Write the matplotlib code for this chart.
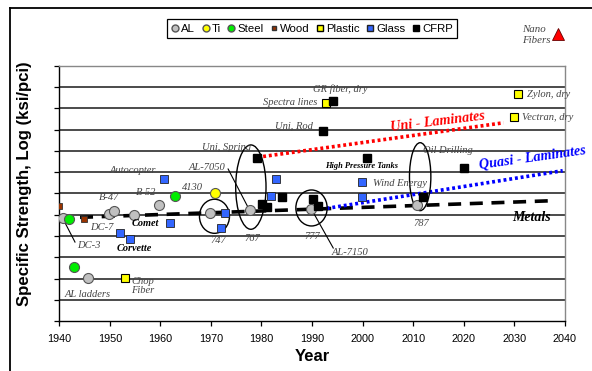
import numpy as np
import matplotlib
matplotlib.use('Agg')
import matplotlib.pyplot as plt
from matplotlib.patches import Ellipse
from matplotlib.lines import Line2D

plt.rcParams['font.family'] = ['Liberation Sans', 'DejaVu Sans']

# material data points (year, log specific strength)
al_year = [1940.8, 1949.9, 1950.9, 1954.8, 1959.8, 1969.8, 1977.8, 1989.8, 2010.8, 1945.7]
al_val = [4.84, 5.02, 5.18, 5.0, 5.46, 5.1, 5.23, 5.29, 5.45, 2.02]
ti_year = [1970.8]
ti_val = [6.0]
steel_year = [1941.9, 1962.9, 1942.9]
steel_val = [4.82, 5.88, 2.55]
wood_year = [1940.0, 1944.9]
wood_val = [5.43, 4.82]
plastic_year = [1952.9, 1992.8, 2030.8, 2029.9]
plastic_val = [2.02, 10.26, 10.66, 9.6]
glass_year = [1952.0, 1954.0, 1960.8, 1961.9, 1972.8, 1971.9, 1982.9, 1981.9, 1999.9, 1999.9]
glass_val = [4.16, 3.85, 6.67, 4.6, 5.07, 4.39, 6.67, 5.88, 6.55, 5.82]
cfrp_year = [1979.2, 1992.1, 2000.9, 1984.1, 1980.1, 1981.0, 1990.1, 1991.1, 2020.1, 2012.0, 1994.2]
cfrp_val = [7.68, 8.95, 7.68, 5.82, 5.49, 5.38, 5.73, 5.41, 7.21, 5.82, 10.36]
nano_year = [2038.6]
nano_val = [13.47]

# trend lines (start, end)
uni_year = [1979.2, 2027.9]
uni_val = [7.7, 9.32]
quasi_year = [1992.9, 2039.6]
quasi_val = [5.3, 7.07]
metal_year = [1944.1, 2037.4]
metal_val = [4.88, 5.66]

xticks = np.arange(1940, 2041, 10)

fig = plt.figure(figsize=(5.92, 3.71), dpi=100)
ax = fig.add_axes([0.1002, 0.134, 0.8537, 0.6889])

for yy in range(1, 12):
    ax.axhline(yy, color='#1a1a1a', lw=1.1, zorder=1)

ax.plot(metal_year, metal_val, color='black', lw=2.6, ls=(0, (3.6, 2.4)), zorder=2)
ax.plot(uni_year, uni_val, color='#ff0000', lw=2.6, ls=(0, (0.8, 0.8)), zorder=2)
ax.plot(quasi_year, quasi_val, color='#0000ff', lw=2.6, ls=(0, (0.8, 0.8)), zorder=2)

# leader lines
ax.plot([1940.75, 1943.1], [4.8, 3.72], color='black', lw=0.8, zorder=3)
ax.plot([1973.4, 1977.3], [7.15, 5.37], color='black', lw=0.8, zorder=3)
ax.plot([1990.2, 1994.2], [5.13, 3.44], color='black', lw=0.8, zorder=3)

# aircraft groupings
for cx, cy, w, h in [(1970.7, 4.93, 5.94, 1.6), (1977.9, 6.3, 6.0, 3.96),
                     (1989.9, 5.32, 6.2, 1.69), (2011.4, 6.79, 4.23, 3.19)]:
    ax.add_patch(Ellipse((cx, cy), w, h, fill=False, ec='black', lw=1.0, zorder=4))

mk = dict(ls='none', zorder=5)
ax.plot(al_year, al_val, marker='o', ms=7.2, mfc='#c0c0c0', mec='#555555', mew=0.8, **mk)
ax.plot(ti_year, ti_val, marker='o', ms=7.2, mfc='#ffff00', mec='#555555', mew=0.8, **mk)
ax.plot(steel_year, steel_val, marker='o', ms=7.2, mfc='#00ee00', mec='#555555', mew=0.8, **mk)
ax.plot(wood_year, wood_val, marker='s', ms=3.8, mfc='#993300', mec='#333333', mew=0.6, **mk)
ax.plot(plastic_year, plastic_val, marker='s', ms=5.2, mfc='#ffff00', mec='black', mew=0.8, **mk)
ax.plot(glass_year, glass_val, marker='s', ms=5.2, mfc='#3366ff', mec='#222222', mew=0.6, **mk)
ax.plot(cfrp_year, cfrp_val, marker='s', ms=5.2, mfc='black', mec='black', **mk)
ax.plot(nano_year, nano_val, marker='^', ms=9, mfc='#ff0000', mec='#660000', mew=0.6, clip_on=False, **mk)

serif = ['Liberation Serif', 'DejaVu Serif']
grey = '#444444'
notes = [
    (1941.1, 1.28, 'AL ladders'), (1954.2, 1.66, 'Chop\nFiber'), (1943.5, 3.58, 'DC-3'),
    (1946.1, 4.38, 'DC-7'), (1947.9, 5.79, 'B-47'), (1955.2, 6.07, 'B-52'),
    (1950.0, 7.1, 'Autocopter'), (1964.3, 6.26, '4130'), (1965.5, 7.24, 'AL-7050'),
    (1969.8, 3.77, '747'), (1976.7, 3.91, '767'), (1968.2, 8.14, 'Uni, Spring'),
    (1982.7, 9.17, 'Uni, Rod'), (1980.3, 10.25, 'Spectra lines'), (1990.2, 10.9, 'GR fiber, dry'),
    (2002.0, 6.49, 'Wind Energy'), (2012.0, 8.0, 'Oil Drilling'), (1988.4, 3.96, '777'),
    (1993.9, 3.21, 'AL-7150'), (2010.0, 4.57, '787'), (2032.5, 10.67, 'Zylon, dry'),
    (2031.5, 9.59, 'Vectran, dry'),
]
for tx, ty, s in notes:
    ax.text(tx, ty, s, family=serif, style='italic', fontsize=7.6, color=grey,
            ha='left', va='center', linespacing=1.05, zorder=6)
ax.text(2031.5, 13.44, 'Nano\nFibers', family=serif, style='italic', fontsize=7.8, color=grey,
        ha='left', va='center', linespacing=1.3, clip_on=False)

bold_notes = [(1954.4, 4.57, 'Comet', 7.4), (1951.4, 3.44, 'Corvette', 7.4),
              (1992.6, 7.29, 'High Pressure Tanks', 6.0), (2029.6, 4.85, 'Metals', 10)]
for tx, ty, s, fs in bold_notes:
    ax.text(tx, ty, s, family=serif, style='italic', weight='bold', fontsize=fs,
            color='black', ha='left', va='center', zorder=6)

ax.text(2014.8, 9.35, 'Uni - Laminates', family=serif, style='italic', weight='bold',
        fontsize=10.2, color='#ff0000', ha='center', va='center', rotation=7)
ax.text(2033.7, 7.67, 'Quasi - Laminates', family=serif, style='italic', weight='bold',
        fontsize=10.2, color='#0000ff', ha='center', va='center', rotation=8, clip_on=False)

ax.set_xlim(1940, 2040)
ax.set_ylim(0, 12)
ax.set_xticks(xticks)
ax.set_xticklabels([str(v) for v in xticks], fontsize=7.8)
ax.set_yticks(range(0, 13))
ax.set_yticklabels([])
ax.tick_params(axis='both', direction='out', length=3.5, width=0.9, color='black', pad=6)
for side in ['top', 'right']:
    ax.spines[side].set_color('#888888')
    ax.spines[side].set_linewidth(1.0)
for side in ['left', 'bottom']:
    ax.spines[side].set_color('black')
    ax.spines[side].set_linewidth(1.0)

ax.set_xlabel('Year', fontsize=12, weight='bold', labelpad=3)
ax.set_ylabel('Specific Strength, Log (ksi/pci)', fontsize=12.1, weight='bold')
ax.yaxis.set_label_coords(-0.054, 0.54)

handles = [
    Line2D([], [], ls='none', marker='o', ms=5, mfc='#c0c0c0', mec='#555555', label='AL'),
    Line2D([], [], ls='none', marker='o', ms=5, mfc='#ffff00', mec='#555555', label='Ti'),
    Line2D([], [], ls='none', marker='o', ms=5, mfc='#00ee00', mec='#555555', label='Steel'),
    Line2D([], [], ls='none', marker='s', ms=3.2, mfc='#993300', mec='#333333', label='Wood'),
    Line2D([], [], ls='none', marker='s', ms=4.6, mfc='#ffff00', mec='black', label='Plastic'),
    Line2D([], [], ls='none', marker='s', ms=4.6, mfc='#3366ff', mec='#222222', label='Glass'),
    Line2D([], [], ls='none', marker='s', ms=4.6, mfc='black', mec='black', label='CFRP'),
]
leg = fig.legend(handles=handles, loc='center', bbox_to_anchor=(0.527, 0.9227), ncol=7,
                 fontsize=8.2, frameon=True, fancybox=False, framealpha=1, edgecolor='black',
                 handlelength=0.7, handletextpad=0.2, columnspacing=0.55, borderpad=0.4,
                 borderaxespad=0)
leg.get_frame().set_linewidth(0.9)

# outer border
fig.add_artist(Line2D([10 / 592, 1], [1 - 8 / 371, 1 - 8 / 371], color='black', lw=1.3))
fig.add_artist(Line2D([10 / 592, 10 / 592], [0, 1 - 8 / 371], color='black', lw=1.3))

fig.savefig('out.png', dpi=100)
